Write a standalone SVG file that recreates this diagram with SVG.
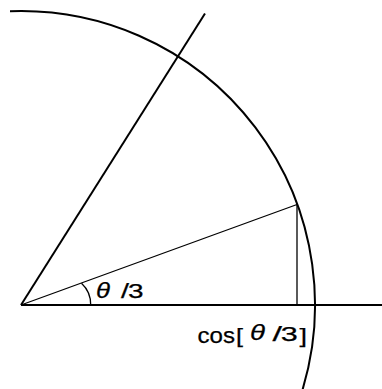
<svg xmlns="http://www.w3.org/2000/svg" width="382" height="389" viewBox="0 0 382 389">
<style>
.thick{fill:none;stroke:#000;stroke-width:2}
.thin{fill:none;stroke:#000;stroke-width:1.3}
.lbl{font-family:"Liberation Sans",Arial,sans-serif;font-size:21px;fill:#000;stroke:#000;stroke-width:0.25}
.it{font-style:italic;font-size:23px}
.cos{font-size:22px}
</style>
<rect width="382" height="389" fill="#fff"/>
<g id="connectors">
<path class="thick" d="M10,11.2 A294,294 0 0 1 300.9,395"/>
<line class="thick" x1="21" y1="305" x2="382" y2="305"/>
<line class="thick" x1="21" y1="305" x2="205" y2="13.5"/>
<line class="thin" x1="21" y1="305" x2="297" y2="204.5"/>
<line class="thin" x1="297" y1="204.5" x2="297" y2="305"/>
<path class="thin" d="M81.5,283.3 A29,29 0 0 1 90.7,305"/>
</g>
<g id="angle-label">
<text class="lbl it" x="96" y="298" textLength="14" lengthAdjust="spacingAndGlyphs">θ</text>
<text class="lbl" x="121" y="298" textLength="8" lengthAdjust="spacingAndGlyphs">/</text>
<text class="lbl" x="128" y="298" textLength="15.5" lengthAdjust="spacingAndGlyphs">3</text>
</g>
<g id="cos-label">
<text class="lbl cos" x="197.5" y="342.5" textLength="37.5" lengthAdjust="spacingAndGlyphs">cos</text>
<text class="lbl" x="236" y="343" textLength="7" lengthAdjust="spacingAndGlyphs">[</text>
<text class="lbl it" x="250" y="340" textLength="15" lengthAdjust="spacingAndGlyphs">θ</text>
<text class="lbl" x="272.5" y="340.5" textLength="9.5" lengthAdjust="spacingAndGlyphs">/</text>
<text class="lbl" x="280.7" y="340.5" textLength="17" lengthAdjust="spacingAndGlyphs">3</text>
<text class="lbl" x="299.5" y="343" textLength="7.5" lengthAdjust="spacingAndGlyphs">]</text>
</g>
</svg>
